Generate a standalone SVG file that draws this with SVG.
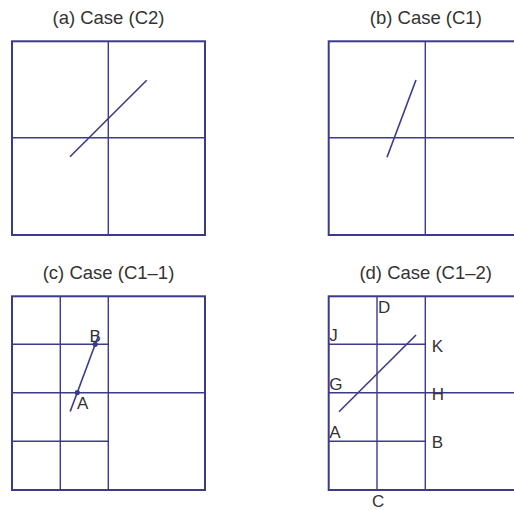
<svg xmlns="http://www.w3.org/2000/svg" width="514" height="510" viewBox="0 0 514 510">
<style>
.t{font-family:"Liberation Sans",Arial,sans-serif;font-size:18.5px;fill:#333;text-anchor:middle}
.l{font-family:"Liberation Sans",Arial,sans-serif;font-size:17px;fill:#333}
.o{fill:none;stroke:#3d3a8c;stroke-width:2}
.g{stroke:#3d3a8c;stroke-width:1.4;fill:none}
.s{stroke:#3d3a8c;stroke-width:1.6;fill:none}
.d{fill:#3d3a8c}
</style>
<rect width="514" height="510" fill="#fff"/>
<g id="panel-a">
<text class="t" x="108.5" y="23.5">(a) Case (C2)</text>
<rect class="o" x="12" y="41.3" width="193" height="193.7"/>
<line class="g" x1="108.3" y1="41.3" x2="108.3" y2="235"/>
<line class="g" x1="12" y1="137.7" x2="205" y2="137.7"/>
</g>
<g id="panel-b">
<text class="t" x="425.8" y="23.5">(b) Case (C1)</text>
<rect class="o" x="328.7" y="41.3" width="193" height="193.7"/>
<line class="g" x1="425.3" y1="41.3" x2="425.3" y2="235"/>
<line class="g" x1="328.7" y1="137.7" x2="522" y2="137.7"/>
</g>
<g id="panel-c">
<text class="t" x="108.5" y="278.5">(c) Case (C1–1)</text>
<rect class="o" x="12" y="296.3" width="193" height="193.7"/>
<line class="g" x1="60.3" y1="296.3" x2="60.3" y2="490"/>
<line class="g" x1="108.3" y1="296.3" x2="108.3" y2="490"/>
<line class="g" x1="12" y1="344.3" x2="108.3" y2="344.3"/>
<line class="g" x1="12" y1="392.7" x2="205" y2="392.7"/>
<line class="g" x1="12" y1="441.3" x2="108.3" y2="441.3"/>
<text class="l" x="89.5" y="341.7">B</text>
<text class="l" x="77" y="409.3">A</text>
</g>
<g id="panel-d">
<text class="t" x="425.7" y="278.5">(d) Case (C1–2)</text>
<rect class="o" x="328.7" y="296.3" width="193" height="193.7"/>
<line class="g" x1="377" y1="296.3" x2="377" y2="490"/>
<line class="g" x1="425.3" y1="296.3" x2="425.3" y2="490"/>
<line class="g" x1="328.7" y1="344.3" x2="425.3" y2="344.3"/>
<line class="g" x1="328.7" y1="392.7" x2="522" y2="392.7"/>
<line class="g" x1="328.7" y1="441.3" x2="425.3" y2="441.3"/>
<text class="l" x="378" y="312.5">D</text>
<text class="l" x="329.3" y="341.3">J</text>
<text class="l" x="431.7" y="351.7">K</text>
<text class="l" x="329.3" y="390">G</text>
<text class="l" x="431.7" y="400">H</text>
<text class="l" x="329.3" y="438.3">A</text>
<text class="l" x="431.7" y="448.3">B</text>
<text class="l" x="372" y="506.6">C</text>
</g>
<g id="connectors">
<line class="s" x1="70" y1="156.7" x2="146.7" y2="80.3"/>
<line class="s" x1="387" y1="157.3" x2="416" y2="80"/>
<line class="s" x1="70.2" y1="411.5" x2="98.5" y2="335.5"/>
<circle class="d" cx="95.2" cy="344.3" r="2.6"/>
<circle class="d" cx="77.3" cy="392.6" r="2.6"/>
<line class="s" x1="339" y1="411.7" x2="416" y2="335"/>
</g>
</svg>
